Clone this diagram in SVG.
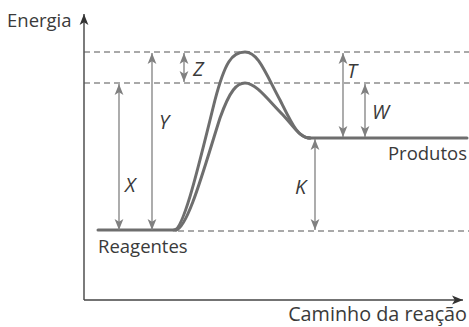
<svg xmlns="http://www.w3.org/2000/svg" width="469" height="327" viewBox="0 0 469 327">
<style>
.txt{font-family:"Open Sans","Liberation Sans",sans-serif;fill:#3a3a3a;font-size:18.5px}
.lbl{font-family:"Open Sans","Liberation Sans",sans-serif;fill:#3a3a3a;font-size:20px;font-style:italic}
.dash{stroke:#555;stroke-width:1.2;stroke-dasharray:6,4;fill:none}
.dim{stroke:#808080;stroke-width:1.3;fill:none;marker-start:url(#ah);marker-end:url(#ah)}
.curve{stroke:#6e6e6e;stroke-width:3;fill:none;stroke-linejoin:round;stroke-linecap:round}
.axis{stroke:#444;stroke-width:1.4;fill:none}
</style>
<defs>
<marker id="ah" viewBox="0 0 10 10" refX="10" refY="5" markerWidth="11" markerHeight="11" markerUnits="userSpaceOnUse" orient="auto-start-reverse">
<path d="M0,1 L10,5 L0,9 L2.5,5 Z" fill="#808080"/>
</marker>
<marker id="ax" viewBox="0 0 10 10" refX="10" refY="5" markerWidth="11" markerHeight="11" markerUnits="userSpaceOnUse" orient="auto">
<path d="M0,1 L10,5 L0,9 L2.5,5 Z" fill="#333"/>
</marker>
</defs>
<g id="axes">
<line class="axis" x1="84" y1="300" x2="84" y2="14" marker-end="url(#ax)"/>
<line class="axis" x1="84" y1="300" x2="463" y2="300" marker-end="url(#ax)"/>
<text class="txt" x="7" y="27">Energia</text>
<text class="txt" x="467" y="321" text-anchor="end" style="font-size:19.8px">Caminho da reação</text>
</g>
<g id="levels">
<line class="dash" x1="84" y1="52" x2="469" y2="52"/>
<line class="dash" x1="84" y1="83" x2="469" y2="83"/>
<line class="dash" x1="178" y1="231" x2="469" y2="231"/>
</g>
<g id="reagentes">
<line class="curve" x1="98" y1="230" x2="176" y2="230"/>
<text class="txt" x="98" y="253">Reagentes</text>
</g>
<g id="produtos">
<line class="curve" x1="308" y1="138" x2="467" y2="138"/>
<text class="txt" x="467" y="160" text-anchor="end">Produtos</text>
</g>
<g id="curves">
<path class="curve" d="M174,230 C184,230 200,160 215,100 C225,62 232,52 245,52 C258,52 265,72 280,100 C292,124 298,138 310,138"/>
<path class="curve" d="M176,230 C188,228 205,165 220,118 C230,90 237,83 245,83 C256,83 268,100 283,115 C295,128 300,138 310,138"/>
</g>
<g id="connectors">
<line class="dim" x1="119" y1="84" x2="119" y2="230"/>
<line class="dim" x1="152" y1="53" x2="152" y2="230"/>
<line class="dim" x1="184" y1="53" x2="184" y2="82"/>
<line class="dim" x1="343" y1="53" x2="343" y2="137"/>
<line class="dim" x1="365" y1="84" x2="365" y2="137"/>
<line class="dim" x1="315" y1="139" x2="315" y2="230"/>
</g>
<g id="labels">
<text class="lbl" x="125" y="192">X</text>
<text class="lbl" x="159" y="129">Y</text>
<text class="lbl" x="193" y="76">Z</text>
<text class="lbl" x="347" y="78">T</text>
<text class="lbl" x="372" y="119">W</text>
<text class="lbl" x="295" y="194">K</text>
</g>
</svg>
